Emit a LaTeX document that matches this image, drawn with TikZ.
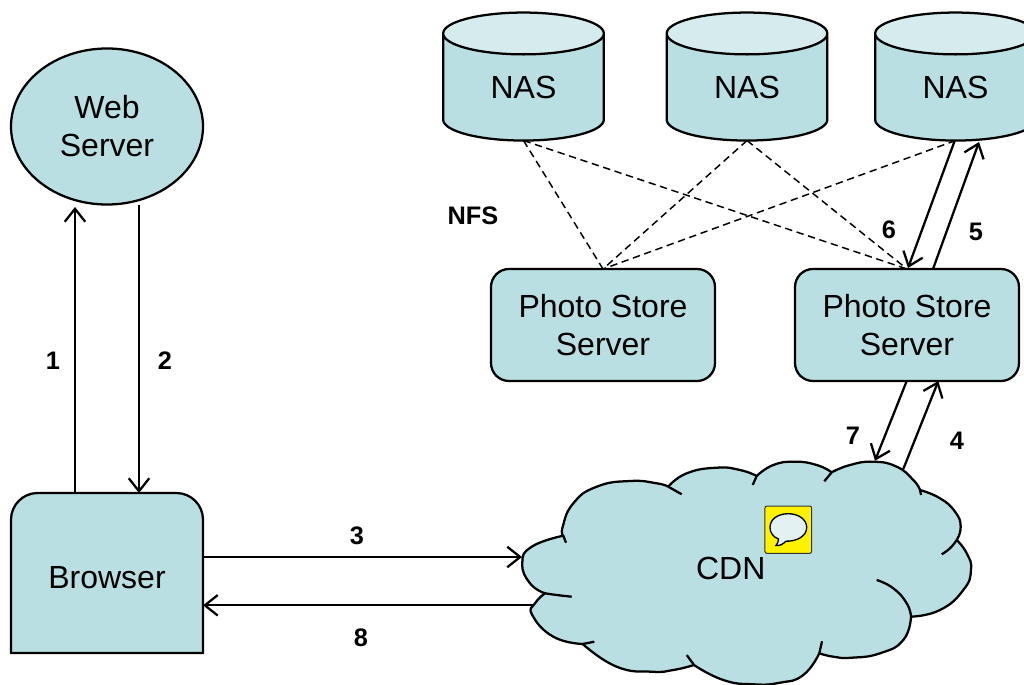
\documentclass[tikz,border=0pt]{standalone}
\usepackage{fontspec}
\setmainfont{Liberation Sans}
\usetikzlibrary{arrows.meta,shapes.geometric}
\definecolor{boxfill}{RGB}{185,223,227}
\definecolor{topfill}{RGB}{213,235,238}
\definecolor{bubblefill}{RGB}{227,241,243}
\tikzset{
    line/.style={
        line width=1.7pt
    },
    arrow/.style={
        line,
        ->,
        > = {
            Straight Barb[length=3.4mm, width=5.4mm, line width=1.7pt]
        }
    },
    nfsline/.style={
        line width=1.1pt,
        dash pattern=on 5.5pt off 3.5pt
    },
    boxtext/.style={
        font=\fontsize{24}{28.5}\selectfont,
        align=center
    },
    steplabel/.style={
        font=\fontsize{19}{22}\selectfont\bfseries
    },
    lobe/.style={
        smooth,
        tension=0.85
    },
    server/.style={
        boxtext,
        line,
        draw=black,
        fill=boxfill,
        rectangle,
        rounded corners=13.5pt,
        minimum width=168pt,
        minimum height=84pt,
        outer sep=0pt
    },
    nas/.style={
        boxtext,
        line,
        draw=black,
        cylinder,
        shape border rotate=90,
        aspect=0.56,
        cylinder uses custom fill,
        cylinder body fill=boxfill,
        cylinder end fill=topfill,
        minimum width=120.5pt,
        minimum height=96pt,
        outer sep=0pt
    }
}

\begin{document}
\begin{tikzpicture}[x=0.75pt, y=-0.75pt]
    \useasboundingbox (0, 0) rectangle (1024, 685);
    \clip (0, 0) rectangle (1024, 685);
    % Web server and browser:
    \node [boxtext, line, draw=black, fill=boxfill, ellipse, minimum width=144pt, minimum height=117pt, outer sep=0pt] (web) at (107, 126.5) {Web\\Server};
    \draw [line, fill=boxfill] (11, 653) [rounded corners=20pt] -- (11, 493) -- (203, 493) [sharp corners] -- (203, 653) -- cycle;
    \node [boxtext] (browser) at (107, 578) {Browser};
    % Storage:
    \node [nas] (nas1) at (523.5, 77) [yshift=-10.5pt] {\raisebox{5pt}{NAS}};
    \node [nas] (nas2) at (747, 77) [yshift=-10.5pt] {\raisebox{5pt}{NAS}};
    \node [nas] (nas3) at (955.5, 77) [yshift=-10.5pt] {\raisebox{5pt}{NAS}};
    \node [server] (store1) at (603, 325) {Photo Store\\Server};
    \node [server] (store2) at (907, 325) {Photo Store\\Server};
    % CDN cloud:
    \filldraw [line, fill=boxfill, line join=round]
        plot [lobe] coordinates {(563.3,535.7) (562.7,526.7) (573.3,503.3) (596.7,486.7) (630,481) (656.7,483.3) (668.3,486.7)}
        -- plot [lobe] coordinates {(668.3,486.7) (686.7,473.3) (716.7,467.7) (740,470) (756.7,476)}
        -- plot [lobe] coordinates {(756.7,476) (773.3,465) (795,461.7) (816.7,465) (831.7,472.3)}
        -- plot [lobe] coordinates {(831.7,472.3) (850,465) (873.3,461.7) (896.7,466.7) (913.3,480) (920,490)}
        -- plot [lobe] coordinates {(920,490) (940,498.3) (955,511.7) (960.7,526.7) (956.7,540)}
        -- plot [lobe] coordinates {(956.7,540) (966.7,553.3) (971,570) (963.3,590) (940,610) (911,616.7)}
        -- plot [lobe] coordinates {(911,616.7) (903.3,640) (880,653.3) (851.7,657.7) (833.3,656.7) (819.3,653.3)}
        -- plot [lobe] coordinates {(819.3,653.3) (803.3,675) (780,682.7) (753.3,684.3) (723.3,680) (694,665)}
        -- plot [lobe] coordinates {(694,665) (673.3,670) (651.7,671.7) (616.7,666.7) (582.7,644)}
        -- plot [lobe] coordinates {(582.7,644) (553.3,636.7) (532.3,615) (535,603.3) (545,593.3)}
        -- plot [lobe] coordinates {(545,593.3) (530,583.3) (522.3,563.3) (531.7,546.7) (563.3,535.7)}
        -- cycle;
    \draw [line] (563.3, 535.7) -- (566, 542.7);
    \draw [line] (668.3, 486.7) -- (681.7, 494.3);
    \draw [line] (756.7, 476) -- (752.7, 485);
    \draw [line] (831.7, 472.3) -- (824.3, 481.3);
    \draw [line] (920, 490) -- (921, 495);
    \draw [line] plot [lobe] coordinates {(956.7,540) (950,548.3) (941.7,554.3)};
    \draw [line] plot [lobe] coordinates {(911,616.7) (906.7,603.3) (893.3,588.3) (876.7,580)};
    \draw [line] (819.3, 653.3) -- (822, 641.3);
    \draw [line] (694, 665) -- (686.7, 655);
    \draw [line] (582.7, 644) -- (594.3, 641.7);
    \draw [line] plot [lobe] coordinates {(545,593.3) (556.7,595) (571.7,596.7)};
    \node [boxtext] (cdn) at (730.7, 568.3) {CDN};
    % Note icon:
    \node [draw=black!80, line width=0.75pt, fill=yellow, rectangle, rounded corners=1.5pt, minimum width=35pt, minimum height=35.5pt, outer sep=0pt] (note) at (788.3, 529.7) {};
    \draw [line width=1pt, fill=bubblefill] (778.5, 539) .. controls (778, 543) and (776.5, 545) .. (776, 545.5) .. controls (780, 546) and (783, 544) .. (786, 541.2) .. controls (797, 541.5) and (806.7, 536) .. (806.7, 527.5) .. controls (806.7, 519) and (798, 513.7) .. (788.3, 513.7) .. controls (778, 513.7) and (770, 519) .. (770, 527.5) .. controls (770, 532.5) and (773, 537) .. (778.5, 539) -- cycle;
    % Free ends of the connectors:
    \coordinate (browser1) at (75, 493);
    \coordinate (web1) at (75, 207);
    \coordinate (web2) at (139, 205);
    \coordinate (browser2) at (139, 493);
    \coordinate (browser3) at (203, 557);
    \coordinate (cloud3) at (522, 557);
    \coordinate (cloud8) at (533, 605.3);
    \coordinate (browser8) at (203, 605.3);
    \coordinate (cloud4) at (903.3, 469);
    \coordinate (store4) at (938.3, 381);
    \coordinate (store7) at (906.7, 381);
    \coordinate (cloud7) at (875, 460.7);
    \coordinate (store5) at (933, 269);
    \coordinate (nas5) at (979, 142);
    \coordinate (nas6) at (954.6, 141);
    \coordinate (store6) at (908, 268);
    % NFS mounts:
    \draw [nfsline] (nas1.south) -- (store1.north);
    \draw [nfsline] (nas1.south) -- (store2.north);
    \draw [nfsline] (nas2.south) -- (store1.north);
    \draw [nfsline] (nas2.south) -- (store2.north);
    \draw [nfsline] (nas3.south) -- (store1.north);
    % Requests:
    \draw [arrow] (browser1) -- (web1);
    \draw [arrow] (web2) -- (browser2);
    \draw [arrow] (browser3) -- (cloud3);
    \draw [arrow] (cloud8) -- (browser8);
    \draw [arrow] (cloud4) -- (store4);
    \draw [arrow] (store7) -- (cloud7);
    \draw [arrow] (store5) -- (nas5);
    \draw [arrow] (nas6) -- (store6);
    % Labels:
    \node [steplabel] (l1) at (53, 361) {1};
    \node [steplabel] (l2) at (165, 361) {2};
    \node [steplabel] (l3) at (357, 536) {3};
    \node [steplabel] (l4) at (957, 441) {4};
    \node [steplabel] (l5) at (976, 232) {5};
    \node [steplabel] (l6) at (889, 230) {6};
    \node [steplabel] (l7) at (853, 436) {7};
    \node [steplabel] (l8) at (361, 638) {8};
    \node [steplabel] (nfs) at (473, 216) {NFS};
\end{tikzpicture}
\end{document}
